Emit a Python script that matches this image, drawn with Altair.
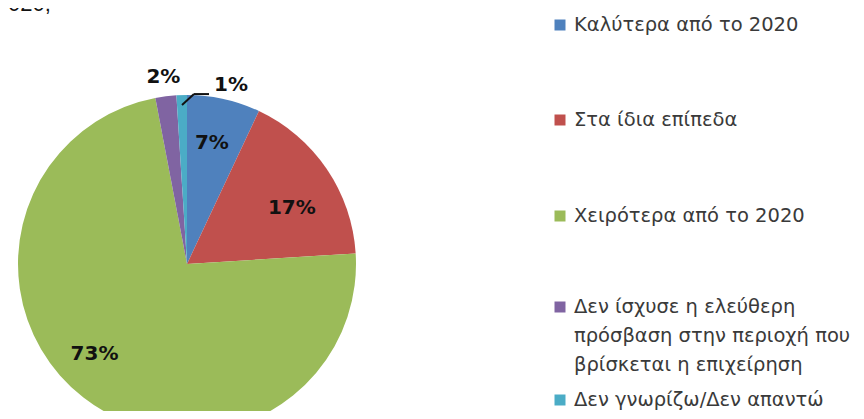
import math
import altair as alt
import pandas as pd

# ---- data ----
categories = [
    "Καλύτερα από το 2020",
    "Στα ίδια επίπεδα",
    "Χειρότερα από το 2020",
    "Δεν ίσχυσε η ελεύθερη\nπρόσβαση στην περιοχή που\nβρίσκεται η επιχείρηση",
    "Δεν γνωρίζω/Δεν απαντώ",
]
values = [7, 17, 73, 2, 1]
labels = ["7%", "17%", "73%", "2%", "1%"]

# ---- style ----
colors = ["#4F81BD", "#C0504D", "#9BBB59", "#8064A2", "#4BACC6"]
label_radius = [124, 119, 129, 188, 200]
label_dtheta = [-1, 6, 8, 0, 0]  # degrees, label nudges
legend_y = [17, 112, 208, 299, 392]
LINE_H = 29
CX, CY, R = 179, 256, 169
W, H = 848, 403

total = sum(values)
cum = [sum(values[:i]) for i in range(len(values))]
mids = [((c + v / 2) / total * 360 + d) * math.pi / 180
        for c, v, d in zip(cum, values, label_dtheta)]

df = pd.DataFrame({"cat": categories, "value": values, "label": labels,
                   "idx": list(range(len(values))), "lr": label_radius, "mid": mids})
color_scale = alt.Scale(domain=categories, range=colors)

pie = alt.Chart(df).mark_arc(outerRadius=R).encode(
    theta=alt.Theta("value:Q", stack=True),
    order=alt.Order("idx:Q"),
    color=alt.Color("cat:N", scale=color_scale, legend=None),
    x=alt.value(CX), y=alt.value(CY),
)

txt_main = alt.Chart(df[df["idx"] < 4]).mark_text(
    font="DejaVu Sans", fontWeight="bold", fontSize=20, color="#111111",
    align="center", baseline="middle").encode(
    text="label:N",
    theta=alt.Theta("mid:Q", scale=None),
    radius=alt.Radius("lr:Q", scale=None),
    x=alt.value(CX), y=alt.value(CY),
)

# 1% label with leader line, computed from the data
mid1 = mids[4]
ax = CX + (R - 10) * math.sin(mid1)
ay = CY - (R - 10) * math.cos(mid1)
ex, ey = ax + 12, ay - 11
lead = pd.DataFrame({"x": [ax, ex], "y": [ay, ey], "x2": [ex, ex + 15], "y2": [ey, ey]})
leader = alt.Chart(lead).mark_rule(color="#111111", strokeWidth=2).encode(
    x=alt.X("x:Q", scale=None), y=alt.Y("y:Q", scale=None),
    x2="x2:Q", y2="y2:Q",
)
one = pd.DataFrame({"label": [labels[4]], "x": [ex + 20], "y": [ey - 9]})
one_txt = alt.Chart(one).mark_text(font="DejaVu Sans", fontWeight="bold", fontSize=20,
                                   color="#111111", align="left", baseline="middle").encode(
    x=alt.X("x:Q", scale=None), y=alt.Y("y:Q", scale=None), text="label:N",
)

# custom legend
leg = pd.DataFrame({"cat": categories, "ly": legend_y})
rows = []
for c, y in zip(categories, legend_y):
    for i, line in enumerate(c.split("\n")):
        rows.append({"line": line, "ly": y + i * LINE_H})
leg_lines = pd.DataFrame(rows)

leg_sq = alt.Chart(leg).mark_square(size=121, opacity=1).encode(
    x=alt.value(552),
    y=alt.Y("ly:Q", scale=None),
    color=alt.Color("cat:N", scale=color_scale, legend=None),
)
leg_txt = alt.Chart(leg_lines).mark_text(font="DejaVu Sans", fontSize=19.5, color="#3a3a3a",
                                         align="left", baseline="middle").encode(
    x=alt.value(566),
    y=alt.Y("ly:Q", scale=None),
    text="line:N",
)

title_frag = alt.Chart(pd.DataFrame({"t": ["020;"]})).mark_text(
    font="Liberation Sans", fontSize=22, color="#111111", align="left",
    baseline="alphabetic").encode(x=alt.value(0), y=alt.value(3), text="t:N")

chart = alt.layer(pie, txt_main, leader, one_txt, leg_sq, leg_txt, title_frag).properties(
    width=W, height=H, autosize=alt.AutoSizeParams(type="none"), padding=0,
).configure_view(strokeOpacity=0, strokeWidth=0)

chart.save("out.html", embed_options={"renderer": "svg", "actions": False})
